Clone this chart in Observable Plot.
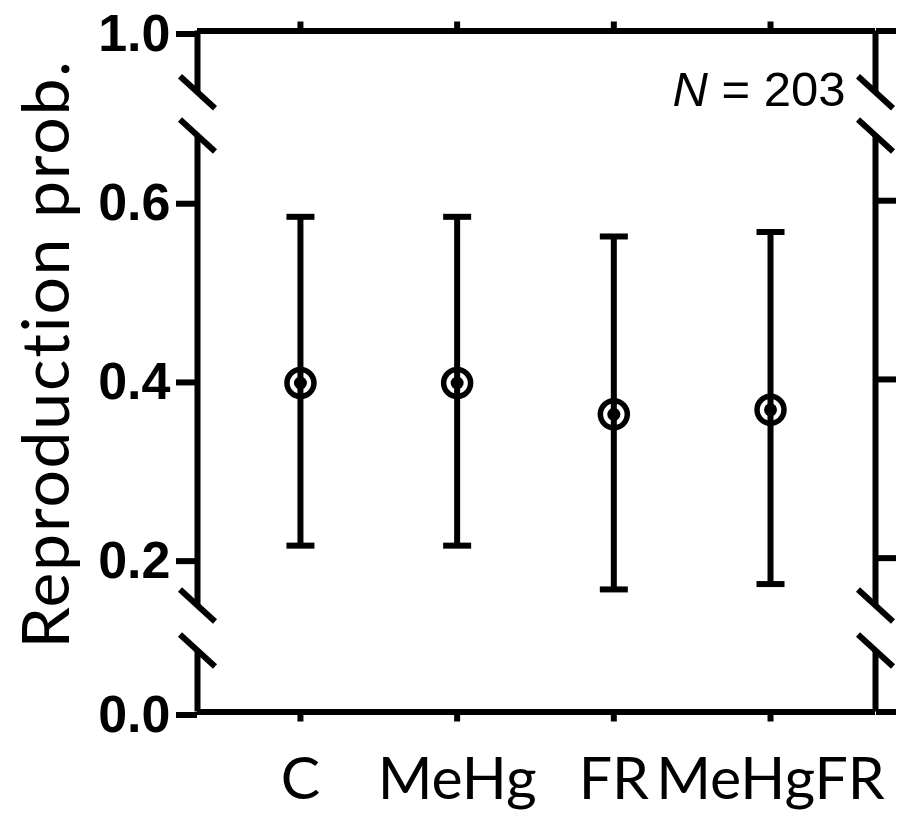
<!DOCTYPE html>
<html><head><meta charset="utf-8">
<script src="https://cdn.jsdelivr.net/npm/d3@7"></script>
<script src="https://cdn.jsdelivr.net/npm/@observablehq/plot@0.6"></script>
<style>body{margin:0;background:#fff} svg{display:block}</style>
</head><body><div id="chart"></div>
<script>
// ---- data ----
const categories = ["C", "MeHg", "FR", "MeHgFR"];
const estimate = [0.396, 0.396, 0.361, 0.366];
const lower = [0.214, 0.214, 0.165, 0.171];
const upper = [0.582, 0.582, 0.560, 0.565];
const yTicks = [0.0, 0.2, 0.4, 0.6, 1.0];
const lowerBreak = [0.05, 0.147];
const upperBreak = [0.673, 0.9];
const sampleSize = 203;
const yTitle = "Reproduction prob.";

// ---- derived tables ----
const xs = categories.map((_, i) => i);
const rows = categories.map((c, i) => ({i, c, est: estimate[i], lo: lower[i], hi: upper[i]}));
const xDomain = [-0.657, 3.67];
const yDomain = [0, lowerBreak[0], lowerBreak[1], upperBreak[0], upperBreak[1], 1.0];
const yRange = [711.5, 650, 605, 135, 91.7, 30.5];
const segments = [[0, lowerBreak[0]], [lowerBreak[1], upperBreak[0]], [upperBreak[1], 1.0]];
const axisSegs = [];
for (const x of xDomain) for (const [a, b] of segments) axisSegs.push({x, a, b});
const breakMarks = [];
for (const x of xDomain) for (const y of [...lowerBreak, ...upperBreak]) breakMarks.push({x, y});

const ang = 42.4 * Math.PI / 180;
const slash = {draw(ctx, size) {
  const r = Math.sqrt(size / Math.PI);
  ctx.moveTo(-r * Math.cos(ang), -r * Math.sin(ang));
  ctx.lineTo(r * Math.cos(ang), r * Math.sin(ang));
}};
const hline = {draw(ctx, size) {
  const r = Math.sqrt(size / Math.PI);
  ctx.moveTo(-r, 0); ctx.lineTo(r, 0);
}};

const SW = 6;
const chart = Plot.plot({
  width: 914, height: 818,
  marginLeft: 197, marginRight: 39, marginTop: 30.5, marginBottom: 106.5,
  style: {background: "white", overflow: "visible"},
  x: {type: "linear", domain: xDomain},
  y: {type: "linear", domain: yDomain, range: yRange},
  marks: [
    Plot.ruleY([0, 1.0], {stroke: "black", strokeWidth: SW}),
    Plot.ruleX(axisSegs, {x: "x", y1: "a", y2: "b", stroke: "black", strokeWidth: SW}),
    Plot.dot(breakMarks, {x: "x", y: "y", symbol: slash, r: 23.7, stroke: "black", fill: "none", strokeWidth: SW}),
    Plot.axisY({anchor: "left", ticks: yTicks, tickSize: 21, tickPadding: 6,
      tickFormat: d3.format(".1f"), fontSize: 52, fontWeight: "bold",
      fontFamily: "Liberation Sans, Arial, sans-serif", strokeWidth: SW, label: null, dy: 3}),
    Plot.axisY({anchor: "right", ticks: yTicks, tickSize: 20, fill: "none", strokeWidth: SW, label: null}),
    Plot.axisX({anchor: "top", ticks: xs, tickSize: 10, fill: "none", strokeWidth: SW, label: null}),
    Plot.axisX({anchor: "bottom", ticks: xs, tickSize: 10, tickPadding: 35,
      tickFormat: i => categories[i], fontSize: 59, fontFamily: "Lato, sans-serif",
      strokeWidth: SW, label: null}),
    Plot.ruleX(rows, {x: "i", y1: "lo", y2: "hi", stroke: "black", strokeWidth: SW}),
    Plot.dot(rows, {x: "i", y: "lo", symbol: hline, r: 14, stroke: "black", fill: "none", strokeWidth: SW}),
    Plot.dot(rows, {x: "i", y: "hi", symbol: hline, r: 14, stroke: "black", fill: "none", strokeWidth: SW}),
    Plot.dot(rows, {x: "i", y: "est", r: 13.5, stroke: "black", fill: "none", strokeWidth: 5.5}),
    Plot.dot(rows, {x: "i", y: "est", r: 6.5, fill: "black", stroke: "none"}),
    Plot.text([yTitle], {text: d => d, frameAnchor: "left", rotate: -90, dx: -129, dy: -17.5,
      textAnchor: "middle", lineAnchor: "bottom", fontSize: 66, fontFamily: "Lato, sans-serif", fill: "black"}),
    Plot.text(["N"], {text: d => d, frameAnchor: "top-right", dx: -167.6, dy: 74.5,
      textAnchor: "end", lineAnchor: "bottom", fontSize: 49, fontStyle: "italic",
      fontFamily: "Liberation Sans, Arial, sans-serif", fill: "black"}),
    Plot.text([` = ${sampleSize}`], {text: d => d, frameAnchor: "top-right", dx: -30, dy: 74.5,
      textAnchor: "end", lineAnchor: "bottom", fontSize: 49,
      fontFamily: "Liberation Sans, Arial, sans-serif", fill: "black"})
  ]
});
d3.select(chart).selectAll("text")
  .filter(function () { return this.textContent === yTitle; })
  .attr("letter-spacing", "1.8px");
document.getElementById("chart").appendChild(chart);
</script>
</body></html>
